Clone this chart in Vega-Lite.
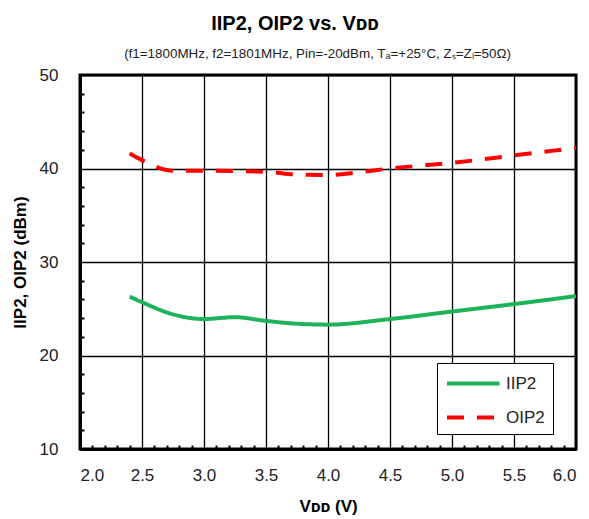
{
  "$schema": "https://vega.github.io/schema/vega-lite/v6.json",
  "width": 496,
  "height": 374,
  "autosize": {"type": "none"},
  "padding": {"left": 80, "top": 75, "right": 13, "bottom": 70},
  "background": "white",
  "config": {
    "font": "Liberation Sans",
    "view": {"stroke": "black", "strokeWidth": 3},
    "legend": {
      "orient": "none",
      "legendX": 357,
      "legendY": 288,
      "fillColor": "white",
      "strokeColor": "black",
      "padding": 8,
      "rowPadding": 13,
      "symbolType": "M-1,0H4",
      "symbolSize": 441,
      "symbolStrokeWidth": 4,
      "labelFontSize": 17,
      "labelOffset": 36,
      "labelFont": "Liberation Sans",
      "labelColor": "#222222"
    }
  },
  "title": {
    "text": "IIP2, OIP2 vs. Vᴅᴅ",
    "fontSize": 20,
    "fontWeight": "bold",
    "font": "Liberation Sans",
    "color": "black",
    "frame": "group",
    "anchor": "middle",
    "dx": -33,
    "offset": 12
  },
  "datasets": {
    "curves": [
      {"series": "IIP2", "vdd": 2.4, "dbm": 26.3},
      {"series": "IIP2", "vdd": 2.5, "dbm": 25.7},
      {"series": "IIP2", "vdd": 2.75, "dbm": 24.4},
      {"series": "IIP2", "vdd": 3.0, "dbm": 23.9},
      {"series": "IIP2", "vdd": 3.25, "dbm": 24.1},
      {"series": "IIP2", "vdd": 3.5, "dbm": 23.7},
      {"series": "IIP2", "vdd": 3.75, "dbm": 23.4},
      {"series": "IIP2", "vdd": 4.0, "dbm": 23.3},
      {"series": "IIP2", "vdd": 4.5, "dbm": 23.9},
      {"series": "IIP2", "vdd": 5.0, "dbm": 24.7},
      {"series": "IIP2", "vdd": 5.5, "dbm": 25.5},
      {"series": "IIP2", "vdd": 6.0, "dbm": 26.35},
      {"series": "OIP2", "vdd": 2.4, "dbm": 41.6},
      {"series": "OIP2", "vdd": 2.5, "dbm": 40.9},
      {"series": "OIP2", "vdd": 2.75, "dbm": 39.75},
      {"series": "OIP2", "vdd": 3.0, "dbm": 39.75},
      {"series": "OIP2", "vdd": 3.5, "dbm": 39.65},
      {"series": "OIP2", "vdd": 3.75, "dbm": 39.35},
      {"series": "OIP2", "vdd": 4.0, "dbm": 39.3},
      {"series": "OIP2", "vdd": 4.25, "dbm": 39.6},
      {"series": "OIP2", "vdd": 4.5, "dbm": 40.0},
      {"series": "OIP2", "vdd": 5.0, "dbm": 40.6},
      {"series": "OIP2", "vdd": 5.5, "dbm": 41.4},
      {"series": "OIP2", "vdd": 6.0, "dbm": 42.2}
    ]
  },
  "data": {"name": "curves"},
  "layer": [
    {
      "mark": {"type": "line", "interpolate": "monotone", "strokeWidth": 4},
      "encoding": {
        "x": {
          "field": "vdd",
          "type": "quantitative",
          "scale": {"domain": [2, 6], "nice": false, "zero": false},
          "axis": {
            "orient": "bottom",
            "values": [2, 2.5, 3, 3.5, 4, 4.5, 5, 5.5, 6],
            "format": ".1f",
            "grid": true,
            "gridColor": "black",
            "gridWidth": 1.3,
            "gridOpacity": 1,
            "ticks": false,
            "domain": true,
            "domainColor": "black",
            "domainWidth": 3,
            "labelFontSize": 17,
            "labelFont": "Liberation Sans",
            "labelColor": "#222222",
            "labelPadding": 18,
            "title": "Vᴅᴅ (V)",
            "titleFont": "Liberation Sans",
            "titleFontSize": 17,
            "titleFontWeight": "bold",
            "titleColor": "black",
            "titlePadding": 15
          }
        },
        "y": {
          "field": "dbm",
          "type": "quantitative",
          "scale": {"domain": [10, 50], "nice": false, "zero": false},
          "axis": {
            "orient": "left",
            "values": [10, 20, 30, 40, 50],
            "grid": true,
            "gridColor": "black",
            "gridWidth": 1.3,
            "gridOpacity": 1,
            "ticks": false,
            "domain": true,
            "domainColor": "black",
            "domainWidth": 3,
            "labelFontSize": 17,
            "labelFont": "Liberation Sans",
            "labelColor": "#222222",
            "labelPadding": 22,
            "title": "IIP2, OIP2 (dBm)",
            "titleFont": "Liberation Sans",
            "titleFontSize": 17,
            "titleFontWeight": "bold",
            "titleColor": "black",
            "titlePadding": 10
          }
        },
        "color": {
          "field": "series",
          "type": "nominal",
          "scale": {"domain": ["IIP2", "OIP2"], "range": ["#1EB25A", "#FF0000"]},
          "legend": {"title": null}
        },
        "strokeDash": {
          "field": "series",
          "type": "nominal",
          "scale": {"domain": ["IIP2", "OIP2"], "range": [[1, 0], [17, 13]]},
          "legend": {"title": null}
        }
      }
    },
    {
      "mark": {"type": "line", "opacity": 0},
      "encoding": {
        "x": {
          "field": "vdd",
          "type": "quantitative",
          "axis": {
            "orient": "bottom",
            "values": [2.1, 2.2, 2.3, 2.4, 2.6, 2.7, 2.8, 2.9, 3.1, 3.2, 3.3, 3.4, 3.6, 3.7, 3.8, 3.9, 4.1, 4.2, 4.3, 4.4, 4.6, 4.7, 4.8, 4.9, 5.1, 5.2, 5.3, 5.4, 5.6, 5.7, 5.8, 5.9],
            "labels": false,
            "domain": false,
            "grid": false,
            "ticks": true,
            "tickSize": -4,
            "tickWidth": 2,
            "tickColor": "black",
            "title": null
          }
        },
        "y": {
          "field": "dbm",
          "type": "quantitative",
          "axis": {
            "orient": "left",
            "values": [12, 14, 16, 18, 22, 24, 26, 28, 32, 34, 36, 38, 42, 44, 46, 48],
            "labels": false,
            "domain": false,
            "grid": false,
            "ticks": true,
            "tickSize": -4,
            "tickWidth": 2,
            "tickColor": "black",
            "title": null
          }
        },
        "detail": {"field": "series", "type": "nominal"}
      }
    },
    {
      "mark": {"type": "line", "opacity": 0},
      "encoding": {
        "x": {
          "field": "vdd",
          "type": "quantitative",
          "axis": {
            "orient": "top",
            "labels": false,
            "domain": false,
            "grid": false,
            "ticks": false,
            "title": "(f1=1800MHz,  f2=1801MHz,  Pin=-20dBm, Tₐ=+25°C, Zₛ=Zₗ=50Ω)",
            "titleFont": "Liberation Sans",
            "titleFontSize": 13.4,
            "titleFontWeight": "normal",
            "titleColor": "#222222",
            "titlePadding": 15,
            "titleX": 237
          }
        },
        "y": {"field": "dbm", "type": "quantitative", "axis": null},
        "detail": {"field": "series", "type": "nominal"}
      }
    }
  ],
  "resolve": {"axis": {"x": "independent", "y": "independent"}}
}
